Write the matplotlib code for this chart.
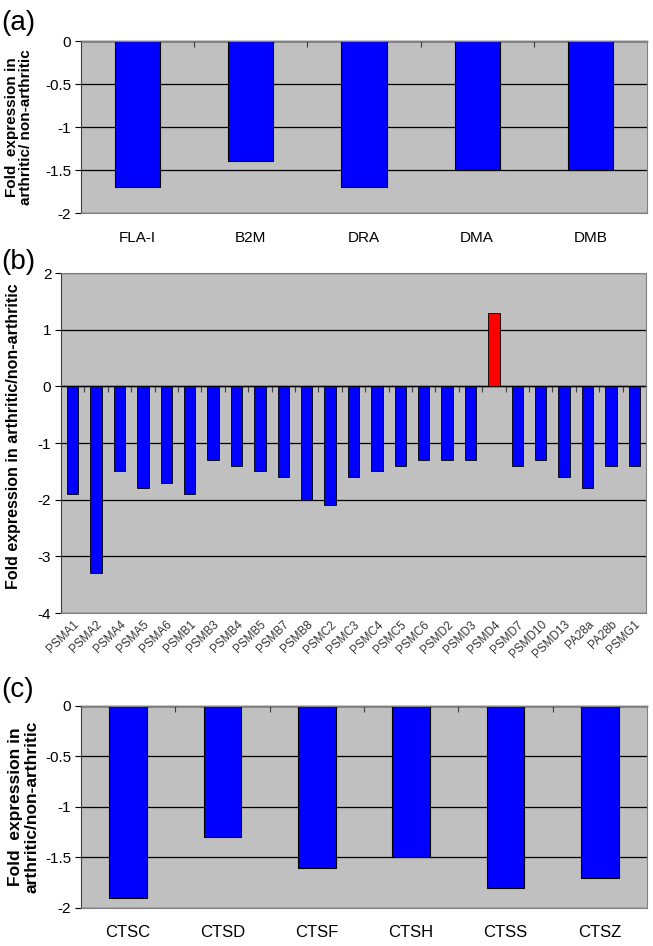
import numpy as np
import matplotlib
matplotlib.use('Agg')
import matplotlib.pyplot as plt
from matplotlib import font_manager

plt.rcParams['font.family'] = ['Liberation Sans', 'DejaVu Sans']

# narrow face for the category labels if it is there
installed = {f.name for f in font_manager.fontManager.ttflist}
NARROW = ['Liberation Sans Narrow'] if 'Liberation Sans Narrow' in installed else ['Liberation Sans']

# panel (a) - MHC genes
mhc_genes = ['FLA-I', 'B2M', 'DRA', 'DMA', 'DMB']
mhc_fold = [-1.7, -1.4, -1.7, -1.5, -1.5]

# panel (b) - proteasome genes
prot_genes = ['PSMA1', 'PSMA2', 'PSMA4', 'PSMA5', 'PSMA6', 'PSMB1', 'PSMB3', 'PSMB4',
              'PSMB5', 'PSMB7', 'PSMB8', 'PSMC2', 'PSMC3', 'PSMC4', 'PSMC5', 'PSMC6',
              'PSMD2', 'PSMD3', 'PSMD4', 'PSMD7', 'PSMD10', 'PSMD13', 'PA28a', 'PA28b', 'PSMG1']
prot_fold = [-1.9, -3.3, -1.5, -1.8, -1.7, -1.9, -1.3, -1.4,
             -1.5, -1.6, -2.0, -2.1, -1.6, -1.5, -1.4, -1.3,
             -1.3, -1.3, 1.3, -1.4, -1.3, -1.6, -1.8, -1.4, -1.4]

# panel (c) - cathepsins
cts_genes = ['CTSC', 'CTSD', 'CTSF', 'CTSH', 'CTSS', 'CTSZ']
cts_fold = [-1.9, -1.3, -1.6, -1.5, -1.8, -1.7]

BG = '#c0c0c0'
FRAME = '#808080'


def style_axes(ax, n, ylim, yticks, yticklabels):
    ax.set_facecolor(BG)
    ax.set_xlim(-0.5, n - 0.5)
    ax.set_ylim(*ylim)
    ax.set_yticks(yticks)
    ax.set_yticklabels(yticklabels, fontsize=11, family=NARROW)
    ax.yaxis.grid(True, color='black', linewidth=0.9)
    ax.set_axisbelow(True)
    ax.tick_params(axis='y', direction='out', length=4, width=0.8, pad=3, colors='black')
    ax.spines['left'].set_color('#404040')
    ax.spines['right'].set_color(FRAME)
    ax.spines['bottom'].set_color(FRAME)
    ax.spines['top'].set_color(FRAME)
    # boundary ticks sitting on the zero line
    sec = ax.secondary_xaxis(0, transform=ax.transData)
    sec.set_xticks(np.arange(n - 1) + 0.5)
    sec.set_xticklabels([])
    sec.set_alignment('bottom')
    sec.tick_params(direction='out', length=4, width=0.8, colors='#404040')
    sec.spines['bottom'].set_color('black')
    sec.spines['bottom'].set_linewidth(1.0)


fig = plt.figure(figsize=(6.53, 9.46), dpi=100)

# (a)
ax_a = fig.add_axes([0.124, 0.7748, 0.8668, 0.1818])
x = np.arange(len(mhc_genes))
ax_a.bar(x, mhc_fold, width=0.40, color='#0000ff', edgecolor='black', linewidth=0.8)
style_axes(ax_a, len(mhc_genes), (-2, 0), [0, -0.5, -1, -1.5, -2], ['0', '-0.5', '-1', '-1.5', '-2'])
ax_a.set_xticks(x)
ax_a.set_xticklabels(mhc_genes, fontsize=11, family=NARROW)
ax_a.tick_params(axis='x', length=0, pad=13)
ax_a.set_ylabel('Fold  expression in\narthritic/ non-arthritic', fontsize=11,
                fontweight='bold', linespacing=1.0)
ax_a.yaxis.set_label_coords(-0.085, 0.5)

# (b)
ax_b = fig.add_axes([0.0934, 0.352, 0.8959, 0.3594])
x = np.arange(len(prot_genes))
bar_colors = ['#ff0000' if v > 0 else '#0000ff' for v in prot_fold]
ax_b.bar(x, prot_fold, width=0.48, color=bar_colors, edgecolor='black', linewidth=0.6)
style_axes(ax_b, len(prot_genes), (-4, 2), [2, 1, 0, -1, -2, -3, -4],
           ['2', '1', '0', '-1', '-2', '-3', '-4'])
ax_b.set_xticks(x)
ax_b.set_xticklabels(prot_genes, fontsize=8.5, rotation=45, ha='right',
                     rotation_mode='anchor', color='#333333')
ax_b.tick_params(axis='x', length=0, pad=4)
ax_b.set_ylabel('Fold expression in arthritic/non-arthritic', fontsize=11.5,
                fontweight='bold')
ax_b.yaxis.set_label_coords(-0.068, 0.52)

# (c)
ax_c = fig.add_axes([0.124, 0.0402, 0.8668, 0.2135])
x = np.arange(len(cts_genes))
ax_c.bar(x, cts_fold, width=0.40, color='#0000ff', edgecolor='black', linewidth=0.8)
style_axes(ax_c, len(cts_genes), (-2, 0), [0, -0.5, -1, -1.5, -2], ['0', '-0.5', '-1', '-1.5', '-2'])
ax_c.set_xticks(x)
ax_c.set_xticklabels(cts_genes, fontsize=12, family=NARROW)
ax_c.tick_params(axis='x', length=0, pad=12)
ax_c.set_ylabel('Fold  expression in\narthritic/non-arthritic', fontsize=12.5,
                fontweight='bold', linespacing=1.05)
ax_c.yaxis.set_label_coords(-0.074, 0.5)

# panel letters
fig.text(0.002, 1 - 23 / 946, '(a)', fontsize=20, va='center', ha='left')
fig.text(0.002, 1 - 262 / 946, '(b)', fontsize=20, va='center', ha='left')
fig.text(0.002, 1 - 690 / 946, '(c)', fontsize=20, va='center', ha='left')

plt.savefig('out.png', dpi=100)
